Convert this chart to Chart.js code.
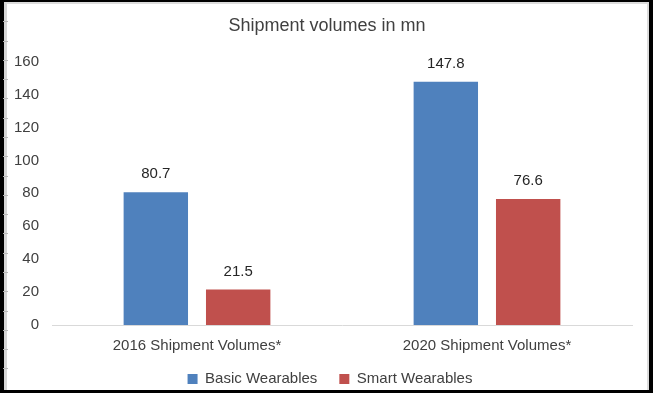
<!DOCTYPE html>
<html>
<head>
<meta charset="utf-8">
<script src="https://cdn.jsdelivr.net/npm/chart.js@4/dist/chart.umd.min.js"></script>
<style>
  html, body { margin: 0; padding: 0; background: #000; width: 653px; height: 393px; overflow: hidden; }
  #frame { position: absolute; left: 4px; top: 2px; width: 640px; height: 386px; background: #fff;
           border-left: 3px solid #d6d6d6; border-top: 2px solid #dcdcdc; border-right: 2px solid #dcdcdc; }
  #marks { position: absolute; left: 3px; top: 12px; width: 5px; height: 370px;
           background: repeating-linear-gradient(to bottom, transparent 0px, transparent 9.3px, #b8b8b8 9.3px, #b8b8b8 10.3px, transparent 10.3px, transparent 19.28px); }
  #wrap { position: absolute; left: 0; top: 0; width: 653px; height: 393px; }
</style>
</head>
<body>
<div id="frame"></div>
<div id="marks"></div>
<div id="wrap"><canvas id="c" width="653" height="393"></canvas></div>
<script>
const categories = ["2016 Shipment Volumes*", "2020 Shipment Volumes*"];
const basicWearables = [80.7, 147.8];
const smartWearables = [21.5, 76.6];
const seriesNames = ["Basic Wearables", "Smart Wearables"];
const chartTitle = "Shipment volumes in mn";

const FONT = "'Liberation Sans', Arial, Helvetica, sans-serif";

const valueLabels = {
  id: 'valueLabels',
  afterDatasetsDraw(chart) {
    const ctx = chart.ctx;
    ctx.save();
    ctx.font = "15px " + FONT;
    ctx.fillStyle = "#262626";
    ctx.textAlign = "center";
    ctx.textBaseline = "middle";
    chart.data.datasets.forEach((ds, i) => {
      const meta = chart.getDatasetMeta(i);
      meta.data.forEach((bar, j) => {
        ctx.fillText(ds.data[j].toFixed(1), bar.x, bar.y - 18);
      });
    });
    ctx.restore();
  }
};

// fixes legend box height and nudges legend/title so they sit where the reference has them
const boxPlacement = {
  id: 'boxPlacement',
  beforeLayout(chart) {
    const lg = chart.legend;
    if (lg && !lg._fixedFit) {
      const orig = lg.fit;
      lg.fit = function () { orig.call(this); this.height = 38.5; };
      lg._fixedFit = true;
    }
  },
  afterLayout(chart) {
    const lg = chart.legend;
    if (lg) { lg.top -= 5; lg.bottom -= 5; lg.left += 14; lg.right += 14; }
    const tb = chart.titleBlock;
    if (tb) { tb.left += 11; tb.right += 11; }
  }
};

new Chart(document.getElementById('c'), {
  type: 'bar',
  data: {
    labels: categories,
    datasets: [
      { label: seriesNames[0], data: basicWearables, backgroundColor: '#4F81BD', borderWidth: 0,
        categoryPercentage: 0.568, barPercentage: 0.782 },
      { label: seriesNames[1], data: smartWearables, backgroundColor: '#C0504D', borderWidth: 0,
        categoryPercentage: 0.568, barPercentage: 0.782 }
    ]
  },
  options: {
    responsive: false,
    animation: false,
    devicePixelRatio: 1,
    layout: { padding: { left: 0, right: 21, top: 0, bottom: 0 } },
    plugins: {
      title: { display: true, text: chartTitle, color: '#404040',
               font: { family: FONT, size: 18, weight: 'normal' }, padding: { top: 15, bottom: 25 } },
      legend: { display: true, position: 'bottom',
                labels: { color: '#404040', font: { family: FONT, size: 15 }, boxWidth: 10, boxHeight: 10,
                          padding: 22 } },
      tooltip: { enabled: false }
    },
    scales: {
      x: {
        grid: { display: false, drawTicks: false },
        border: { display: true, color: '#d9d9d9', width: 1 },
        ticks: { color: '#404040', font: { family: FONT, size: 15 }, padding: 11.5 },
        afterFit(scale) { scale.height = 29.5; }
      },
      y: {
        min: 0, max: 160,
        grid: { display: false, drawTicks: false },
        border: { display: false },
        ticks: { stepSize: 20, color: '#404040', font: { family: FONT, size: 15 }, padding: 13 },
        afterFit(scale) { scale.width = 52; }
      }
    }
  },
  plugins: [valueLabels, boxPlacement]
});
</script>
</body>
</html>
